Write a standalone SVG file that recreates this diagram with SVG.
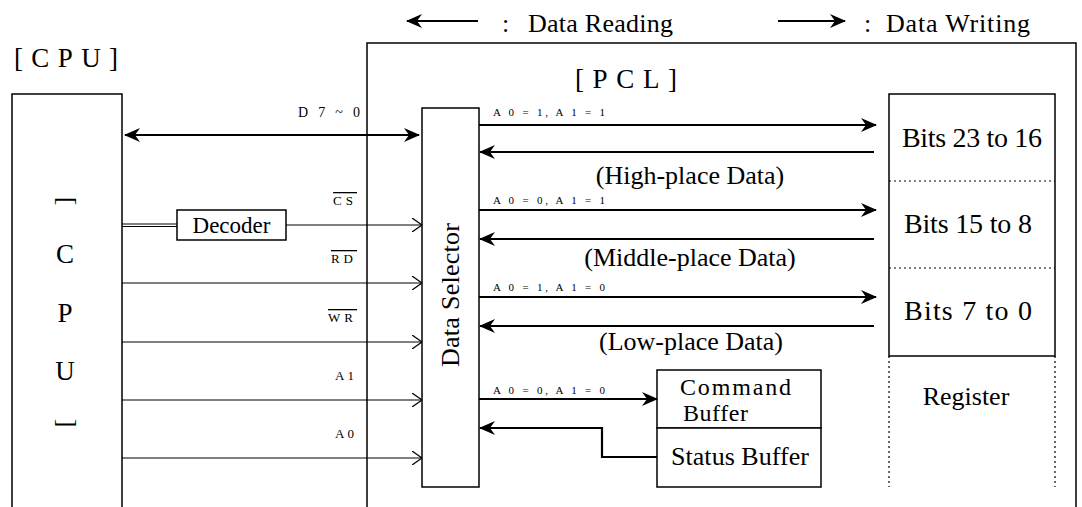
<svg xmlns="http://www.w3.org/2000/svg" width="1082" height="507" viewBox="0 0 1082 507">
<style>
.t{font-family:"Liberation Serif","Times New Roman",serif;fill:#000}
.big{font-size:26px}
.sm{font-size:11px}
.lb{font-size:13px}
.box{fill:#fff;stroke:#000;stroke-width:1.5}
.thick{stroke:#000;stroke-width:2.2;fill:none}
.thin{stroke:#000;stroke-width:1;fill:none}
.dot{stroke:#000;stroke-width:1.2;stroke-dasharray:2 3;fill:none}
.ov{text-decoration:overline}
</style>
<defs>
<marker id="ah" viewBox="0 0 16 14" refX="15" refY="7" markerWidth="16" markerHeight="14" markerUnits="userSpaceOnUse" orient="auto-start-reverse">
<path d="M0,0 L16,7 L0,14 L5,7 z" fill="#000"/>
</marker>
<marker id="oa" viewBox="0 0 10 14" refX="10" refY="7" markerWidth="10" markerHeight="14" markerUnits="userSpaceOnUse" orient="auto">
<path d="M0,0 L10,7 L0,14" fill="none" stroke="#000" stroke-width="1.3"/>
</marker>
</defs>
<rect width="1082" height="507" fill="#fff"/>

<g id="legend">
<line x1="478" y1="21" x2="407" y2="21" class="thick" marker-end="url(#ah)"/>
<text x="502" y="32" class="t big">:</text>
<text x="528" y="32" class="t big" textLength="145">Data Reading</text>
<line x1="778" y1="21" x2="845" y2="21" class="thick" marker-end="url(#ah)"/>
<text x="864" y="32" class="t big">:</text>
<text x="886" y="32" class="t big" textLength="144">Data Writing</text>
</g>

<g id="cpu">
<text x="14" y="67" class="t" font-size="27" textLength="104" lengthAdjust="spacing">[CPU]</text>
<path d="M12,507 V94 H122 V507" class="box" fill="none"/>
<text transform="translate(59,201) rotate(90)" class="t" font-size="26" text-anchor="middle">[</text>
<text x="65" y="263" class="t" font-size="27" text-anchor="middle">C</text>
<text x="65" y="322" class="t" font-size="27" text-anchor="middle">P</text>
<text x="65" y="380" class="t" font-size="27" text-anchor="middle">U</text>
<text transform="translate(59,423) rotate(90)" class="t" font-size="26" text-anchor="middle">]</text>
</g>

<g id="pcl">
<path d="M367,507 V43 H1076 V507" class="box" fill="none"/>
<text x="575" y="88" class="t" font-size="27" textLength="102" lengthAdjust="spacing">[PCL]</text>
</g>

<g id="decoder">
<rect x="177" y="210" width="109" height="30" class="box"/>
<text x="231.5" y="233" class="t" font-size="23" text-anchor="middle">Decoder</text>
</g>

<g id="data-selector">
<rect x="422" y="108" width="57" height="379" class="box"/>
<text transform="translate(459,295) rotate(-90)" class="t big" text-anchor="middle" textLength="144">Data Selector</text>
</g>

<g id="register">
<path d="M889,356 V94 H1055 V356 Z" class="box"/>
<line x1="889" y1="181" x2="1055" y2="181" class="dot"/>
<line x1="889" y1="268" x2="1055" y2="268" class="dot"/>
<line x1="889" y1="356" x2="889" y2="487" class="dot"/>
<line x1="1055" y1="356" x2="1055" y2="487" class="dot"/>
<text x="972" y="147" class="t" font-size="28" text-anchor="middle" textLength="140">Bits 23 to 16</text>
<text x="968" y="233" class="t" font-size="28" text-anchor="middle" textLength="128">Bits 15 to 8</text>
<text x="968" y="320" class="t" font-size="28" text-anchor="middle" textLength="128">Bits 7 to 0</text>
<text x="966" y="405" class="t" font-size="26" text-anchor="middle">Register</text>
</g>

<g id="command-buffer">
<rect x="657" y="370" width="164" height="58" class="box"/>
<text x="680" y="395" class="t" font-size="24" textLength="111">Command</text>
<text x="683" y="421" class="t" font-size="24" textLength="65">Buffer</text>
</g>

<g id="status-buffer">
<rect x="657" y="428" width="164" height="59" class="box"/>
<text x="740" y="465" class="t" font-size="26" text-anchor="middle" textLength="138">Status Buffer</text>
</g>

<g id="connectors">
<line x1="125" y1="135" x2="419" y2="135" class="thick" marker-start="url(#ah)" marker-end="url(#ah)"/>
<text x="360" y="117" class="t" font-size="14" text-anchor="end" textLength="62" lengthAdjust="spacing">D 7 ~ 0</text>

<line x1="122" y1="224" x2="177" y2="224" class="thin"/>
<line x1="122" y1="226.5" x2="177" y2="226.5" class="thin"/>
<line x1="286" y1="225" x2="422" y2="225" class="thin" marker-end="url(#oa)"/>
<text x="357" y="205" class="t lb ov" text-anchor="end" letter-spacing="4">CS</text>

<line x1="122" y1="283" x2="422" y2="283" class="thin" marker-end="url(#oa)"/>
<text x="357" y="263" class="t lb ov" text-anchor="end" letter-spacing="4">RD</text>
<line x1="122" y1="342" x2="422" y2="342" class="thin" marker-end="url(#oa)"/>
<text x="357" y="322" class="t lb ov" text-anchor="end" letter-spacing="4">WR</text>
<line x1="122" y1="400" x2="422" y2="400" class="thin" marker-end="url(#oa)"/>
<text x="357" y="380" class="t lb" text-anchor="end" letter-spacing="3">A1</text>
<line x1="122" y1="458" x2="422" y2="458" class="thin" marker-end="url(#oa)"/>
<text x="357" y="438" class="t lb" text-anchor="end" letter-spacing="3">A0</text>

<line x1="479" y1="125" x2="876" y2="125" class="thick" marker-end="url(#ah)"/>
<text x="493" y="116" class="t sm" textLength="112" lengthAdjust="spacing">A 0 = 1,  A 1 = 1</text>
<line x1="874" y1="152" x2="480" y2="152" class="thick" marker-end="url(#ah)"/>
<text x="690" y="184" class="t big" text-anchor="middle">(High-place Data)</text>

<line x1="479" y1="210" x2="876" y2="210" class="thick" marker-end="url(#ah)"/>
<text x="493" y="204" class="t sm" textLength="112" lengthAdjust="spacing">A 0 = 0,  A 1 = 1</text>
<line x1="874" y1="239" x2="480" y2="239" class="thick" marker-end="url(#ah)"/>
<text x="690" y="266" class="t big" text-anchor="middle">(Middle-place Data)</text>

<line x1="479" y1="297" x2="876" y2="297" class="thick" marker-end="url(#ah)"/>
<text x="493" y="291" class="t sm" textLength="112" lengthAdjust="spacing">A 0 = 1,  A 1 = 0</text>
<line x1="874" y1="326" x2="480" y2="326" class="thick" marker-end="url(#ah)"/>
<text x="691" y="350" class="t big" text-anchor="middle">(Low-place Data)</text>

<line x1="479" y1="399" x2="657" y2="399" class="thick" marker-end="url(#ah)"/>
<text x="493" y="394" class="t sm" textLength="112" lengthAdjust="spacing">A 0 = 0,  A 1 = 0</text>
<path d="M657,457 H602 V428 H480" class="thick" marker-end="url(#ah)"/>
</g>
</svg>
